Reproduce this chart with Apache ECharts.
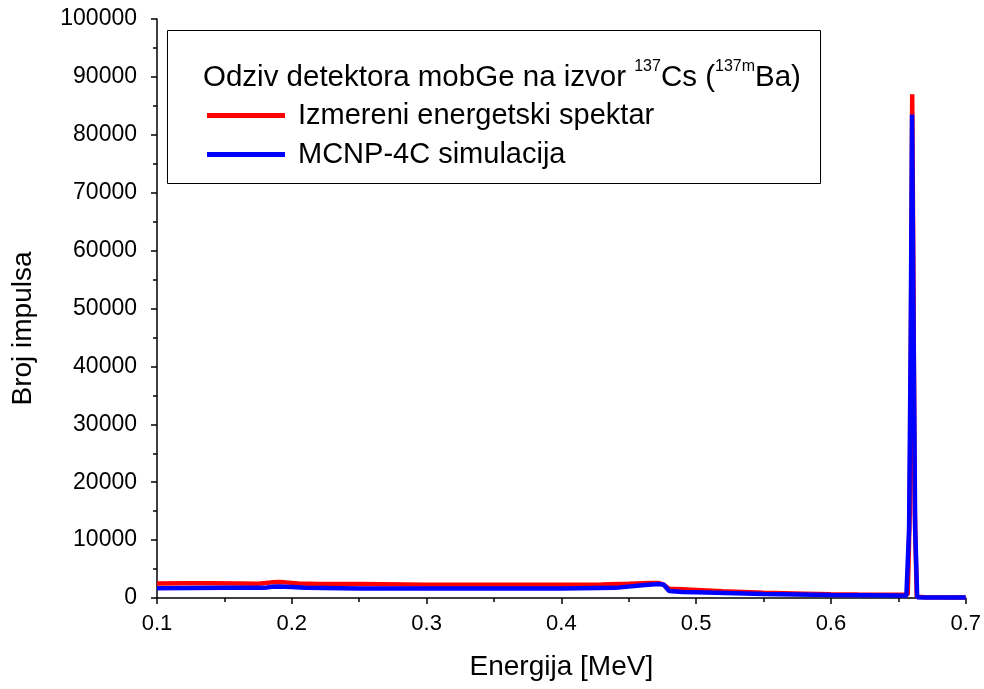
<!DOCTYPE html>
<html>
<head>
<meta charset="utf-8">
<script src="https://cdn.jsdelivr.net/npm/echarts@6/dist/echarts.min.js"></script>
<style>
  html, body { margin: 0; padding: 0; background: #fff; }
  #chart { width: 984px; height: 689px; }
</style>
</head>
<body>
<div id="chart"></div>
<script>
// measured spectrum (red)
const measEnergy = [0.100, 0.120, 0.140, 0.160, 0.175, 0.185, 0.190, 0.195, 0.205, 0.220, 0.250, 0.300, 0.350, 0.400, 0.430, 0.450, 0.465, 0.472, 0.476, 0.480, 0.490, 0.500, 0.520, 0.550, 0.580, 0.600, 0.620, 0.640, 0.655, 0.657, 0.6585, 0.6595, 0.6603, 0.6612, 0.6622, 0.6637, 0.670, 0.700];
const measCounts = [2500, 2550, 2550, 2500, 2450, 2700, 2750, 2700, 2500, 2400, 2400, 2300, 2300, 2300, 2350, 2450, 2600, 2600, 2300, 1600, 1500, 1400, 1150, 900, 750, 650, 600, 580, 570, 600, 15000, 50000, 87000, 55000, 15000, 200, 120, 100];

// MCNP-4C simulation (blue)
const simEnergy = [0.100, 0.150, 0.180, 0.185, 0.190, 0.200, 0.210, 0.250, 0.300, 0.350, 0.400, 0.440, 0.460, 0.472, 0.476, 0.480, 0.490, 0.500, 0.550, 0.600, 0.650, 0.656, 0.658, 0.6592, 0.6602, 0.6612, 0.6625, 0.6640, 0.670, 0.700];
const simCounts = [1700, 1750, 1750, 1950, 2000, 1900, 1750, 1650, 1650, 1650, 1650, 1750, 2200, 2400, 2300, 1200, 1050, 1000, 700, 500, 430, 400, 12000, 45000, 83500, 50000, 12000, 150, 100, 100];

const xTicks = [0.1, 0.2, 0.3, 0.4, 0.5, 0.6, 0.7];

const pairs = (xs, ys) => xs.map((x, i) => [x, ys[i]]);

const chart = echarts.init(document.getElementById('chart'));
const font = 'Liberation Sans, Arial, sans-serif';

const option = {
  animation: false,
  grid: { left: 157, right: 18, top: 19, bottom: 91 },
  xAxis: {
    type: 'value',
    min: xTicks[0],
    max: xTicks[xTicks.length - 1],
    interval: 0.1,
    name: 'Energija [MeV]',
    nameLocation: 'middle',
    nameGap: 55,
    nameTextStyle: { fontFamily: font, fontSize: 28, color: '#000' },
    axisLine: { lineStyle: { color: '#000', width: 1.5 } },
    axisTick: { inside: false, length: 6, lineStyle: { color: '#000', width: 1.5 } },
    minorTick: { show: true, splitNumber: 2, length: 4, lineStyle: { color: '#000', width: 1.5 } },
    axisLabel: { fontFamily: font, fontSize: 22, color: '#000', margin: 15,
      formatter: v => v.toFixed(1) },
    splitLine: { show: false }
  },
  yAxis: {
    type: 'value',
    min: 0,
    max: 100000,
    interval: 10000,
    name: 'Broj impulsa',
    nameLocation: 'middle',
    nameGap: 120,
    nameTextStyle: { fontFamily: font, fontSize: 28, color: '#000', padding: [0, 40, 0, 0] },
    axisLine: { show: true, lineStyle: { color: '#000', width: 1.5 } },
    axisTick: { show: true, inside: false, length: 6, lineStyle: { color: '#000', width: 1.5 } },
    minorTick: { show: true, splitNumber: 2, length: 4, lineStyle: { color: '#000', width: 1.5 } },
    axisLabel: { fontFamily: font, fontSize: 23, color: '#000', margin: 20,
      formatter: v => String(v) },
    splitLine: { show: false }
  },
  legend: {
    orient: 'vertical',
    left: 202,
    top: 96,
    icon: 'rect',
    itemWidth: 78,
    itemHeight: 5,
    itemGap: 10,
    textStyle: { fontFamily: font, fontSize: 29, color: '#000', padding: [0, 0, 0, 8] },
    data: ['Izmereni energetski spektar', 'MCNP-4C simulacija']
  },
  graphic: [
    {
      type: 'rect',
      shape: { x: 167.5, y: 30.5, width: 653, height: 153 },
      style: { fill: 'none', stroke: '#000', lineWidth: 1 },
      z: 1
    },
    {
      type: 'text',
      left: 203,
      top: 59,
      style: {
        text: '{n|Odziv detektora mobGe na izvor }{s|137}{n|Cs (}{s|137m}{n|Ba)}',
        rich: {
          n: { fontFamily: font, fontSize: 29.5, color: '#000', verticalAlign: 'bottom', lineHeight: 34 },
          s: { fontFamily: font, fontSize: 16, color: '#000', verticalAlign: 'top', lineHeight: 34 }
        }
      },
      z: 10
    }
  ],
  series: [
    {
      name: 'Izmereni energetski spektar',
      type: 'line',
      data: pairs(measEnergy, measCounts),
      showSymbol: false,
      color: '#ff0000',
      lineStyle: { color: '#ff0000', width: 4.5 }
    },
    {
      name: 'MCNP-4C simulacija',
      type: 'line',
      data: pairs(simEnergy, simCounts),
      showSymbol: false,
      color: '#0000ff',
      lineStyle: { color: '#0000ff', width: 4.5 }
    }
  ]
};

chart.setOption(option);
</script>
</body>
</html>
